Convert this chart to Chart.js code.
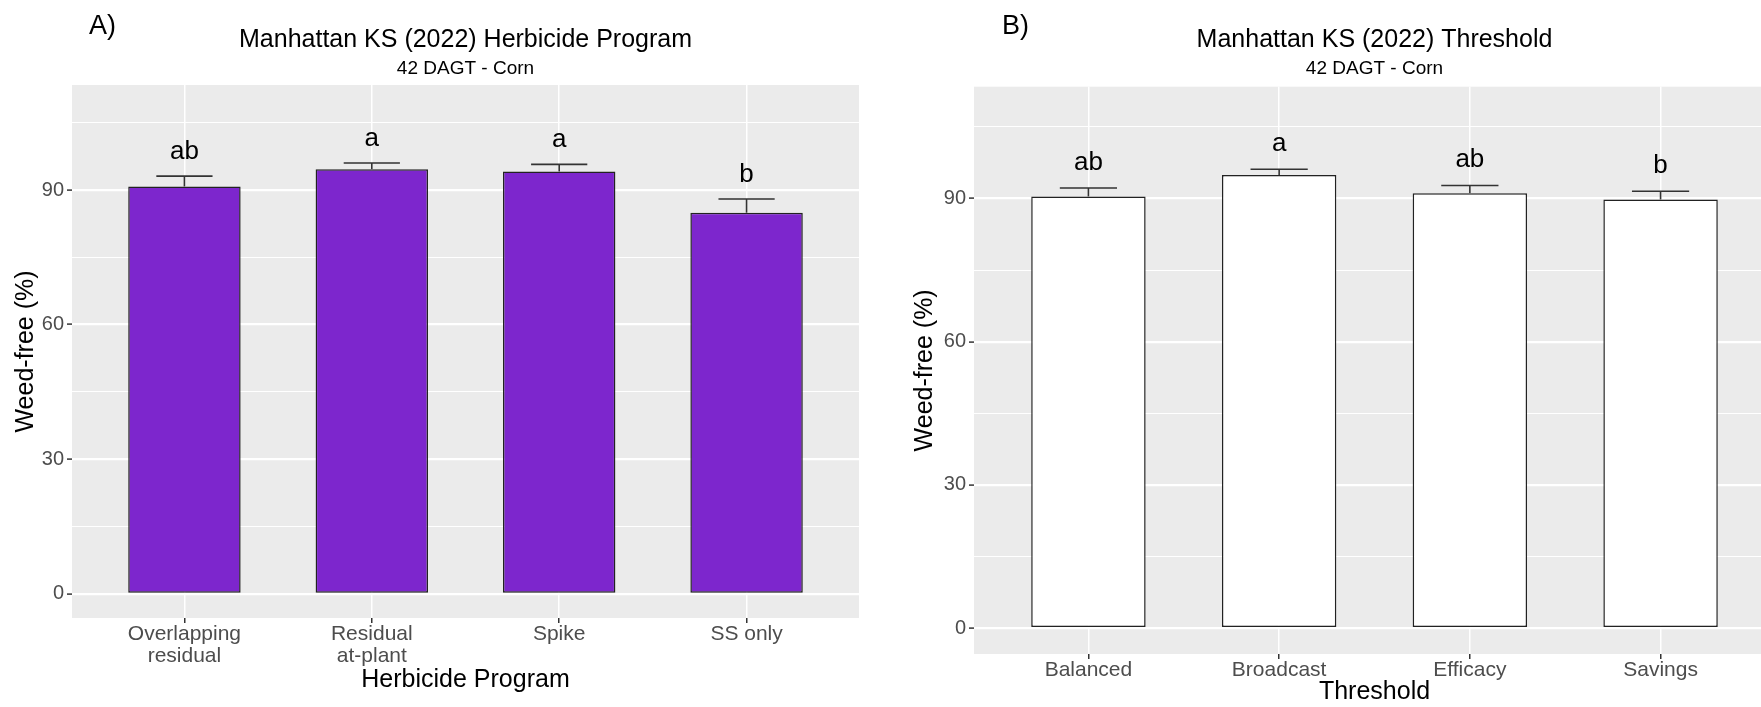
<!DOCTYPE html>
<html>
<head>
<meta charset="utf-8">
<script src="https://cdn.jsdelivr.net/npm/chart.js@4.4.0/dist/chart.umd.min.js"></script>
<style>
  html, body { margin: 0; padding: 0; background: #fff; overflow: hidden; }
  #wrap { position: relative; width: 1761px; height: 707px; overflow: hidden; }
  canvas { position: absolute; top: 0; }
  #chartA { left: 0; }
  #chartB { left: 880px; }
</style>
</head>
<body>
<div id="wrap">
  <canvas id="chartA" width="880" height="707"></canvas>
  <canvas id="chartB" width="900" height="707"></canvas>
</div>
<script>
// panel A - herbicide program
const programLabels = [["Overlapping", "residual"], ["Residual", "at-plant"], "Spike", "SS only"];
const programMeans = [90.8, 94.6, 94.1, 84.9];
const programSE = [2.3, 1.4, 1.6, 3.1];
const programLetters = ["ab", "a", "a", "b"];

// panel B - threshold
const thresholdLabels = ["Balanced", "Broadcast", "Efficacy", "Savings"];
const thresholdMeans = [90.4, 94.9, 91.1, 89.8];
const thresholdSE = [1.8, 1.2, 1.6, 1.7];
const thresholdLetters = ["ab", "a", "ab", "b"];

const yMajor = [0, 30, 60, 90];
const yMinor = [15, 45, 75, 105];

const FONT = '"Liberation Sans", Arial, Helvetica, sans-serif';
Chart.defaults.font.family = FONT;

// ggplot-ish panel bg, error bars, letters, tag
const ggPlugin = {
  id: "gg",
  beforeDraw(chart) {
    const { ctx, chartArea: a } = chart;
    ctx.save();
    ctx.fillStyle = "#EBEBEB";
    ctx.fillRect(a.left, a.top, a.right - a.left, a.bottom - a.top);
    ctx.restore();
  },
  afterDatasetsDraw(chart, args, opts) {
    const { ctx } = chart;
    const x = chart.scales.x, y = chart.scales.y;
    const pts = chart.data.datasets[0].data;
    ctx.save();
    pts.forEach((pt, i) => {
      const top = pt.y + opts.se[i];
      const cx = x.getPixelForValue(pt.x);
      const y0 = y.getPixelForValue(pt.y);
      const y1 = y.getPixelForValue(top);
      const xl = x.getPixelForValue(pt.x - 0.15);
      const xr = x.getPixelForValue(pt.x + 0.15);
      ctx.strokeStyle = "#333";
      ctx.lineWidth = 1.6;
      ctx.beginPath();
      ctx.moveTo(cx, y0); ctx.lineTo(cx, y1);
      ctx.moveTo(xl, y1); ctx.lineTo(xr, y1);
      ctx.stroke();
      ctx.fillStyle = "#000";
      ctx.font = "26px " + FONT;
      ctx.textAlign = "center";
      ctx.textBaseline = "alphabetic";
      ctx.fillText(opts.letters[i], cx, y.getPixelForValue(top + 3.85));
    });
    ctx.restore();
  },
  afterDraw(chart, args, opts) {
    const { ctx } = chart;
    ctx.save();
    ctx.fillStyle = "#000";
    ctx.font = "27px " + FONT;
    ctx.textAlign = "left";
    ctx.textBaseline = "middle";
    ctx.fillText(opts.tag, opts.tagX, 27);
    ctx.restore();
  }
};

function makeChart(id, o) {
  const pos = o.labels.map((l, i) => i + 1);
  return new Chart(document.getElementById(id), {
    type: "bar",
    data: {
      datasets: [{
        data: pos.map((p, i) => ({ x: p, y: o.means[i] })),
        backgroundColor: o.fill,
        borderColor: "#222",
        borderWidth: 1.5,
        borderSkipped: false,
        barPercentage: 0.6,
        categoryPercentage: 1
      }]
    },
    options: {
      responsive: false,
      animation: false,
      devicePixelRatio: 1,
      layout: { padding: { left: 0, right: o.padRight, top: 0, bottom: 0 } },
      plugins: {
        legend: { display: false },
        tooltip: { enabled: false },
        title: {
          display: true, text: o.title, fullSize: false, color: "#000",
          font: { size: 25, weight: "normal" }, padding: { top: 25.5, bottom: 1.9 }
        },
        subtitle: {
          display: true, text: "42 DAGT - Corn", fullSize: false, color: "#000",
          font: { size: 19 }, padding: { top: 0, bottom: o.subPad }
        },
        gg: { se: o.se, letters: o.letters, tag: o.tag, tagX: o.tagX }
      },
      scales: {
        x: {
          type: "linear", min: 0.4, max: 4.6, offset: false,
          afterBuildTicks: s => { s.ticks = pos.map(v => ({ value: v })); },
          afterFit: s => { s.height = o.xH; },
          grid: { offset: false, color: "#FFFFFF", lineWidth: 1.5, tickColor: "#333", tickLength: 5, tickWidth: 1.5 },
          border: { display: false },
          ticks: {
            callback: v => o.labels[Math.round(v) - 1],
            color: "#4D4D4D", font: { size: 21, lineHeight: 1.05 },
            padding: 0, maxRotation: 0, autoSkip: false
          },
          title: {
            display: true, text: o.xTitle, color: "#000",
            font: { size: 25 }, padding: { top: 0, bottom: o.xTitlePad }
          }
        },
        y: {
          min: -5.4, max: 113.4,
          afterBuildTicks: s => {
            s.ticks = yMajor.concat(yMinor).sort((a, b) => a - b).map(v => ({ value: v }));
          },
          afterFit: s => { s.width = o.yW; },
          grid: {
            color: "#FFFFFF",
            lineWidth: c => (c.tick && yMajor.includes(c.tick.value)) ? 2.2 : 1.1,
            tickColor: c => (c.tick && yMajor.includes(c.tick.value)) ? "#333" : "rgba(0,0,0,0)",
            tickLength: 5, tickWidth: 1.5
          },
          border: { display: false },
          ticks: {
            callback: v => yMajor.includes(v) ? String(v) : "",
            color: "#4D4D4D", font: { size: 20 }, padding: 3, autoSkip: false
          },
          title: {
            display: true, text: "Weed-free (%)", color: "#000",
            font: { size: 25 }, padding: { top: o.yTitlePad, bottom: 0 }
          }
        }
      }
    },
    plugins: [ggPlugin]
  });
}

makeChart("chartA", {
  labels: programLabels, means: programMeans, se: programSE, letters: programLetters,
  fill: "#7D26CD", title: "Manhattan KS (2022) Herbicide Program", xTitle: "Herbicide Program",
  tag: "A)", tagX: 89, padRight: 21, subPad: 4.8, xH: 89, xTitlePad: 12, yW: 72, yTitlePad: 11.5
});

makeChart("chartB", {
  labels: thresholdLabels, means: thresholdMeans, se: thresholdSE, letters: thresholdLetters,
  fill: "#FFFFFF", title: "Manhattan KS (2022) Threshold", xTitle: "Threshold",
  tag: "B)", tagX: 122, padRight: 5, subPad: 6.5, xH: 53, xTitlePad: 0, yW: 94, yTitlePad: 30
});
</script>
</body>
</html>
